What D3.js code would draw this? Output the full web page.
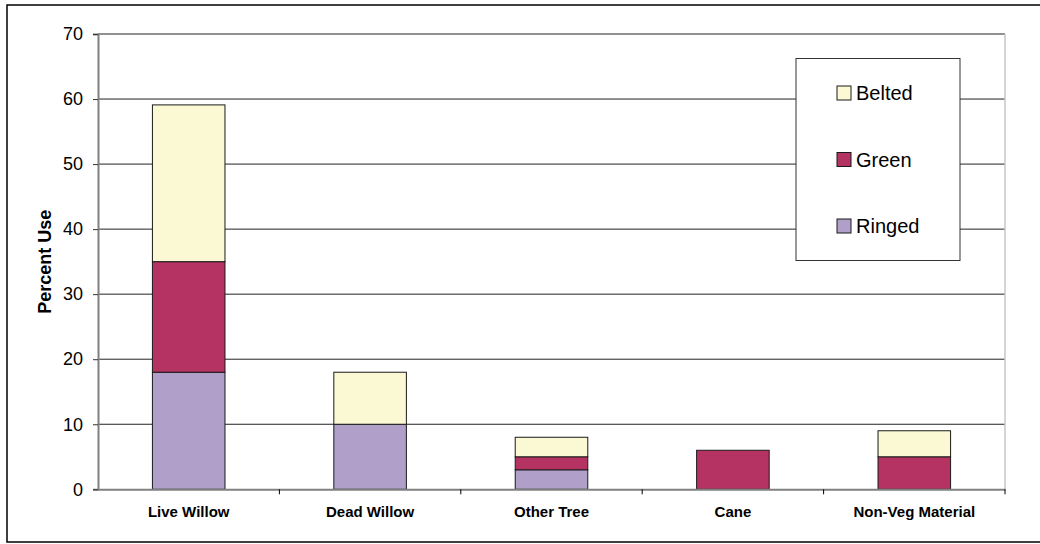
<!DOCTYPE html>
<html>
<head>
<meta charset="utf-8">
<script src="https://cdn.jsdelivr.net/npm/d3@7"></script>
<style>
  body { margin: 0; background: #fff; }
  svg { display: block; font-family: "Liberation Sans", Arial, sans-serif; }
</style>
</head>
<body>
<div id="chart"></div>
<script>
// chart data
const categories = ["Live Willow", "Dead Willow", "Other Tree", "Cane", "Non-Veg Material"];
const ringed = [18, 10, 3, 0, 0];
const green  = [17, 0, 2, 6, 5];
const belted = [24.1, 8, 3, 0, 4];
const seriesNames = ["Ringed", "Green", "Belted"];
const yTicks = [0, 10, 20, 30, 40, 50, 60, 70];

const colors = {Ringed: "#af9fc9", Green: "#b53363", Belted: "#fbf8d4"};

const W = 1040, H = 544;
const margin = {top: 34, right: 35, bottom: 55, left: 98};
const width = 1005 - margin.left,
      height = 489.3 - margin.top;

const root = d3.select("#chart").append("svg")
  .attr("width", W)
  .attr("height", H);

// outer frame (right edge runs off the picture)
root.append("rect")
  .attr("x", 7).attr("y", 5)
  .attr("width", 1060).attr("height", 537)
  .attr("fill", "none")
  .attr("stroke", "#000")
  .attr("stroke-width", 1.5);

const svg = root.append("g")
  .attr("transform", `translate(${margin.left}, ${margin.top})`);

const x = d3.scaleBand()
  .domain(categories)
  .range([0, width])
  .paddingInner(0.6)
  .paddingOuter(0.3);

const y = d3.scaleLinear()
  .domain([0, 70])
  .range([height, 0]);

// gridlines
svg.append("g")
  .selectAll("line")
  .data(yTicks.filter(d => d > 0))
  .join("line")
  .attr("x1", 0).attr("x2", width)
  .attr("y1", d => y(d)).attr("y2", d => y(d))
  .attr("stroke", "#222")
  .attr("stroke-width", 1);

// right plot border
svg.append("line")
  .attr("x1", width).attr("x2", width)
  .attr("y1", 0).attr("y2", height)
  .attr("stroke", "#c8c4c4")
  .attr("stroke-width", 1.5);

// stacked bars
const table = categories.map((c, i) => ({cat: c, Ringed: ringed[i], Green: green[i], Belted: belted[i]}));
const stack = d3.stack().keys(seriesNames)(table);

svg.append("g")
  .selectAll("g")
  .data(stack)
  .join("g")
  .attr("fill", d => colors[d.key])
  .selectAll("rect")
  .data(d => d.filter(s => s[1] - s[0] > 0))
  .join("rect")
  .attr("x", d => x(d.data.cat))
  .attr("y", d => y(d[1]))
  .attr("width", x.bandwidth())
  .attr("height", d => y(d[0]) - y(d[1]))
  .attr("stroke", "#1a1a1a")
  .attr("stroke-width", 1);

// y axis
const yAxis = svg.append("g")
  .call(d3.axisLeft(y).tickValues(yTicks).tickSize(5).tickPadding(10));
yAxis.select(".domain").attr("stroke", "#808080").attr("stroke-width", 2);
yAxis.selectAll(".tick line").attr("stroke", "#333");
yAxis.selectAll(".tick text")
  .attr("font-size", 18)
  .attr("fill", "#000")
  .attr("font-family", "Liberation Sans, Arial, sans-serif");

// x axis, ticks at band boundaries
const xAxis = svg.append("g")
  .attr("transform", `translate(0, ${height})`)
  .call(d3.axisBottom(x).tickSize(0).tickPadding(17));
xAxis.select(".domain").attr("stroke", "#808080").attr("stroke-width", 2);
xAxis.selectAll(".tick text")
  .attr("font-size", 15)
  .attr("font-weight", "bold")
  .attr("fill", "#000")
  .attr("font-family", "Liberation Sans, Arial, sans-serif");

xAxis.selectAll(".sep")
  .data(d3.range(1, categories.length + 1))
  .join("line")
  .attr("class", "sep")
  .attr("x1", i => i * width / categories.length)
  .attr("x2", i => i * width / categories.length)
  .attr("y1", 0).attr("y2", 5)
  .attr("stroke", "#000");

// y label
root.append("text")
  .attr("transform", `translate(51, ${margin.top + height / 2}) rotate(-90)`)
  .attr("text-anchor", "middle")
  .attr("font-size", 18)
  .attr("font-weight", "bold")
  .text("Percent Use");

// legend
const legend = root.append("g");
legend.append("rect")
  .attr("x", 796).attr("y", 58.5)
  .attr("width", 164).attr("height", 202)
  .attr("fill", "#fff")
  .attr("stroke", "#333")
  .attr("stroke-width", 1);

const legendItems = ["Belted", "Green", "Ringed"];
const ly = d3.scalePoint().domain(legendItems).range([93, 226]);

const li = legend.selectAll("g.item")
  .data(legendItems)
  .join("g")
  .attr("class", "item")
  .attr("transform", d => `translate(837, ${ly(d)})`);
li.append("rect")
  .attr("x", 0).attr("y", -7)
  .attr("width", 14).attr("height", 14)
  .attr("fill", d => colors[d])
  .attr("stroke", "#1a1a1a");
li.append("text")
  .attr("x", 19).attr("y", 0)
  .attr("dy", "0.35em")
  .attr("font-size", 20)
  .text(d => d);
</script>
</body>
</html>
